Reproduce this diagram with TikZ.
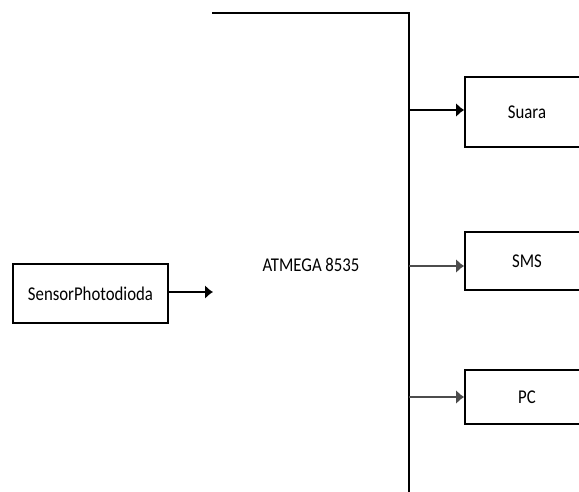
\documentclass[tikz,border=0pt]{standalone}
\usepackage{fontspec}
\setmainfont{Carlito}
\usetikzlibrary{arrows.meta}
\newcommand{\narrowtext}[1]{\scalebox{0.86}[1]{#1}}

\begin{document}
\begin{tikzpicture}[x=1pt,y=-1pt,line width=1.6pt,
    blok/.style={draw,minimum width=124pt,inner sep=0pt,
      font=\fontsize{19.5}{22}\selectfont},
    panah/.style={-{Latex[length=8pt,width=14pt]}}]
  \path[use as bounding box,clip] (0,0) rectangle (579,491);
  % mikrokontroler, tepi kiri dan bawah terpotong
  \coordinate (mcuNW) at (212,13);
  \coordinate (mcuNE) at (409,13);
  \coordinate (mcuSE) at (409,495);
  \coordinate (mcuin) at (213,292);
  \draw (mcuNW) -- (mcuNE) -- (mcuSE);
  \node[font=\fontsize{19.5}{22}\selectfont] (atmega) at (311,265)
    {\narrowtext{ATMEGA 8535}};
  \node[blok,minimum width=155pt,minimum height=59pt] (sensor) at (90.5,293.5)
    {\narrowtext{SensorPhotodioda}};
  \node[blok,minimum height=70pt] (suara) at (527,112) {\narrowtext{Suara}};
  \node[blok,minimum height=58pt] (sms) at (527,261) {\narrowtext{SMS}};
  \node[blok,minimum height=54pt] (pc) at (527,397) {\narrowtext{PC}};
  \draw[panah] (sensor.east |- mcuin) -- (mcuin);
  \draw[panah] (mcuNE |- 0,110) -- (suara.west |- 0,110);
  \draw[panah,black!70] (mcuNE |- 0,266) -- (sms.west |- 0,266);
  \draw[panah,black!70] (mcuNE |- pc.west) -- (pc.west);
\end{tikzpicture}
\end{document}
